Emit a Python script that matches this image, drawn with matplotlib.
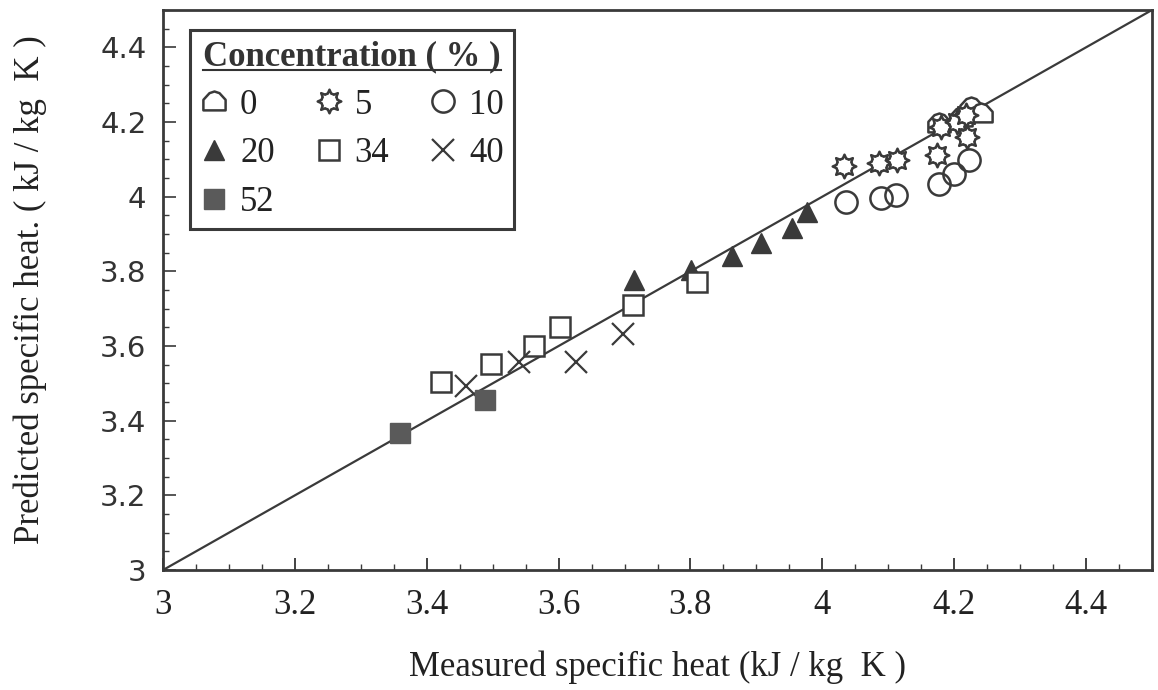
"""
Predicted vs measured specific heat for several concentrations,
with the 1:1 line.
"""
import numpy as np
import matplotlib as mpl
mpl.use('Agg')
import matplotlib.pyplot as plt
from matplotlib.path import Path
from matplotlib.lines import Line2D

# Measured / predicted specific heat (kJ/kg K).
meas_0 = [4.177, 4.21, 4.226, 4.24]
pred_0 = [4.197, 4.213, 4.24, 4.224]

meas_5 = [4.033, 4.086, 4.114, 4.174, 4.18, 4.205, 4.218, 4.22]
pred_5 = [4.083, 4.090, 4.098, 4.112, 4.187, 4.200, 4.219, 4.160]

meas_10 = [4.036, 4.089, 4.112, 4.177, 4.200, 4.222]
pred_10 = [3.986, 3.997, 4.005, 4.034, 4.061, 4.098]

meas_20 = [3.714, 3.801, 3.863, 3.907, 3.954, 3.976]
pred_20 = [3.777, 3.804, 3.841, 3.876, 3.916, 3.959]

meas_34 = [3.422, 3.497, 3.562, 3.602, 3.713, 3.810]
pred_34 = [3.504, 3.552, 3.600, 3.651, 3.710, 3.771]

meas_40 = [3.459, 3.540, 3.626, 3.698]
pred_40 = [3.493, 3.557, 3.557, 3.632]

meas_52 = [3.360, 3.488]
pred_52 = [3.367, 3.455]

ink = '#3a3a3a'

# sun-like marker (ring with 8 short rays) for the 5 % series
pts = []
for k in range(8):
    a = k * np.pi / 4
    for da, r in [(-0.22, 0.68), (0.0, 1.0), (0.22, 0.68)]:
        pts.append((r*np.sin(a + da), r*np.cos(a + da)))
    for da in np.linspace(0.3, np.pi/4 - 0.3, 3):
        pts.append((0.68*np.sin(a + da), 0.68*np.cos(a + da)))
gear = Path(np.array(pts + [pts[0]]), closed=True)

# house-shaped marker for the 0 % series
house = Path(np.array([[-1, -0.8], [1, -0.8], [1, 0.15], [0.45, 0.75],
                       [0, 0.9], [-0.45, 0.75], [-1, 0.15], [-1, -0.8]]),
             closed=True)

serif = 'Liberation Serif'

fig = plt.figure(figsize=(11.58, 6.9), dpi=100)
ax = fig.add_axes([0.1408, 0.1739, 0.854, 0.8116])

ax.plot([3, 4.5], [3, 4.5], color=ink, lw=1.6, zorder=1)

h0, = ax.plot(meas_0, pred_0, ls='none', marker=house, ms=16, mfc='white',
              mec=ink, mew=1.8, label='0')
h5, = ax.plot(meas_5, pred_5, ls='none', marker=gear, ms=17, mfc='white',
              mec=ink, mew=1.8, label='5')
h10, = ax.plot(meas_10, pred_10, ls='none', marker='o', ms=16, mfc='none',
               mec=ink, mew=1.8, label='10')
h20, = ax.plot(meas_20, pred_20, ls='none', marker='^', ms=14, mfc=ink,
               mec=ink, label='20')
h34, = ax.plot(meas_34, pred_34, ls='none', marker='s', ms=15, mfc='white',
               mec=ink, mew=1.8, label='34')
h40, = ax.plot(meas_40, pred_40, ls='none', marker='x', ms=16, mec=ink,
               mew=1.6, label='40')
h52, = ax.plot(meas_52, pred_52, ls='none', marker='s', ms=14, mfc='#5a5a5a',
               mec='#5a5a5a', label='52')

ax.set_xlim(3, 4.5)
ax.set_ylim(3, 4.5)
ax.set_xticks(np.arange(3, 4.41, 0.2))
ax.set_yticks(np.arange(3, 4.41, 0.2))
ax.set_xticklabels(['3', '3.2', '3.4', '3.6', '3.8', '4', '4.2', '4.4'],
                   fontfamily=serif, fontsize=25)
ax.set_yticklabels(['3', '3.2', '3.4', '3.6', '3.8', '4', '4.2', '4.4'],
                   fontfamily='DejaVu Sans', fontsize=21, color='#333333')
ax.xaxis.set_minor_locator(mpl.ticker.MultipleLocator(0.05))
ax.yaxis.set_minor_locator(mpl.ticker.MultipleLocator(0.05))
ax.tick_params(which='both', direction='in', color=ink, top=False, right=False)
ax.tick_params(which='major', length=9, width=1.2)
ax.tick_params(which='minor', length=4, width=1.0)
ax.tick_params(axis='x', pad=14, colors='#222222')
ax.tick_params(axis='y', pad=12)
for s in ax.spines.values():
    s.set_color(ink)
    s.set_linewidth(2)

ax.set_xlabel('Measured specific heat (kJ / kg  K )', fontfamily=serif,
              fontsize=25, labelpad=20, color='#222222')
ax.set_ylabel('Predicted specific heat. ( kJ / kg  K )', fontfamily=serif,
              fontsize=25, labelpad=38, color='#222222')

leg = ax.legend([h0, h20, h52, h5, h34, h10, h40],
                ['0', '20', '52', '5', '34', '10', '40'],
                ncol=3, loc='upper left', bbox_to_anchor=(0.027, 0.965),
                title='Concentration ( % )', fancybox=False,
                edgecolor=ink, framealpha=1, borderpad=0.3,
                handlelength=0.8, handletextpad=0.35, columnspacing=1.15,
                labelspacing=0.45, borderaxespad=0,
                prop={'family': serif, 'size': 25},
                title_fontproperties={'family': serif, 'size': 25,
                                      'weight': 'bold'})
leg.get_title().set_color('#333333')
leg.get_frame().set_linewidth(2.2)
for t in leg.get_texts():
    t.set_color('#222222')

# underline the legend title
fig.canvas.draw()
bb = leg.get_title().get_window_extent().transformed(fig.transFigure.inverted())
fig.add_artist(Line2D([bb.x0, bb.x1], [bb.y0 + 0.004, bb.y0 + 0.004],
                      transform=fig.transFigure, color='#333333', lw=1.5))

fig.savefig('out.png', dpi=100)
